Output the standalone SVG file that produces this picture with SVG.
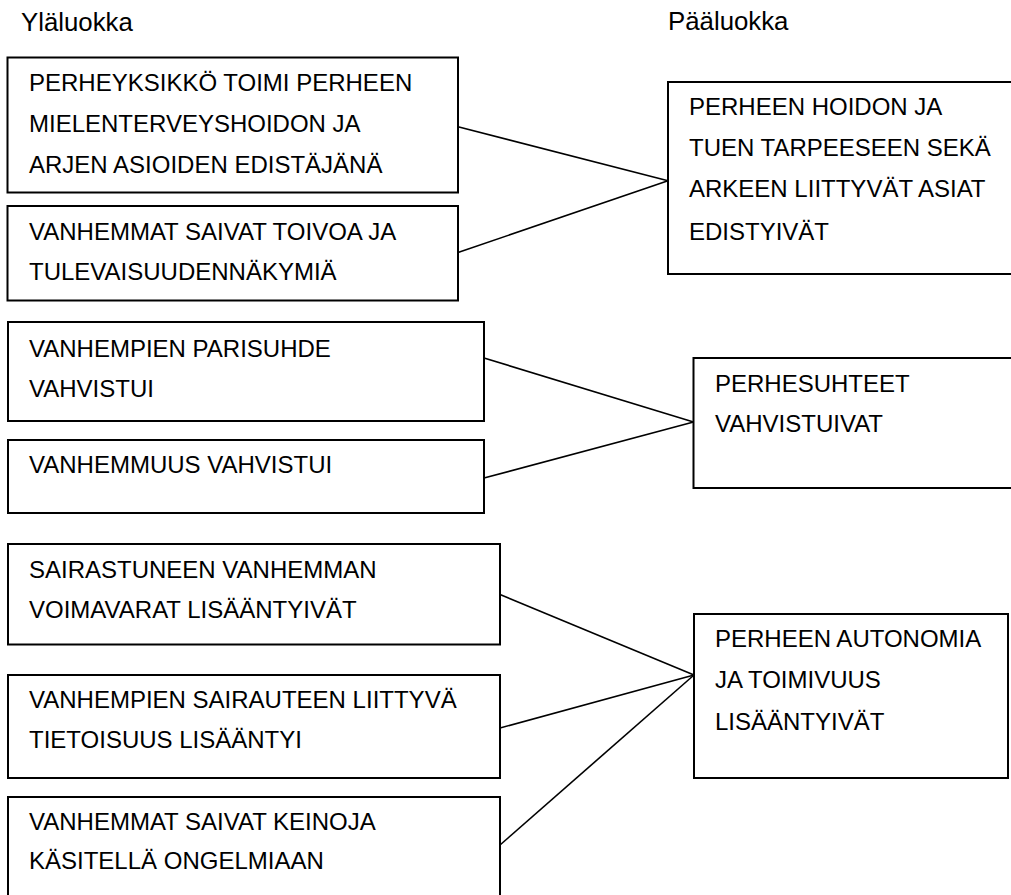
<svg xmlns="http://www.w3.org/2000/svg" width="1011" height="895" viewBox="0 0 1011 895">
  <style>
    .box { fill: #fff; stroke: #000; stroke-width: 2; }
    .lbl { font-family: "Liberation Sans", Arial, sans-serif; font-size: 24px; fill: #000; }
    .head { font-family: "Liberation Sans", Arial, sans-serif; font-size: 25.8px; fill: #000; }
    .conn line { stroke: #000; stroke-width: 1.6; }
  </style>
  <rect width="1011" height="895" fill="#fff"/>

  <!-- column headings -->
  <text class="head" x="21" y="31">Yläluokka</text>
  <text class="head" x="668" y="30">Pääluokka</text>

  <!-- connectors -->
  <g id="connectors" class="conn">
    <line x1="458" y1="126.7" x2="668" y2="180.7"/>
    <line x1="458" y1="252.5" x2="668" y2="180.7"/>
    <line x1="484" y1="358" x2="693.5" y2="422"/>
    <line x1="484" y1="478" x2="693.5" y2="422"/>
    <line x1="500" y1="594.5" x2="694" y2="675"/>
    <line x1="500" y1="728" x2="694" y2="675"/>
    <line x1="500" y1="845" x2="694" y2="675"/>
  </g>

  <!-- upper-level categories -->
  <g id="perheyksikko">
    <rect class="box" x="7.5" y="57.5" width="450.5" height="135"/>
    <text class="lbl" x="29" y="90.7">PERHEYKSIKKÖ TOIMI PERHEEN</text>
    <text class="lbl" x="29" y="131.7">MIELENTERVEYSHOIDON JA</text>
    <text class="lbl" x="29" y="173">ARJEN ASIOIDEN EDISTÄJÄNÄ</text>
  </g>
  <g id="toivoa">
    <rect class="box" x="7.5" y="206" width="450.5" height="94.5"/>
    <text class="lbl" x="29" y="240">VANHEMMAT SAIVAT TOIVOA JA</text>
    <text class="lbl" x="29" y="280">TULEVAISUUDENNÄKYMIÄ</text>
  </g>
  <g id="parisuhde">
    <rect class="box" x="8" y="322" width="476" height="99"/>
    <text class="lbl" x="29" y="356.7">VANHEMPIEN PARISUHDE</text>
    <text class="lbl" x="29" y="397">VAHVISTUI</text>
  </g>
  <g id="vanhemmuus">
    <rect class="box" x="8" y="440" width="476" height="73"/>
    <text class="lbl" x="29" y="473">VANHEMMUUS VAHVISTUI</text>
  </g>
  <g id="voimavarat">
    <rect class="box" x="8" y="544" width="492" height="100.5"/>
    <text class="lbl" x="29" y="578">SAIRASTUNEEN VANHEMMAN</text>
    <text class="lbl" x="29" y="618">VOIMAVARAT LISÄÄNTYIVÄT</text>
  </g>
  <g id="tietoisuus">
    <rect class="box" x="8" y="675" width="492" height="103"/>
    <text class="lbl" x="29" y="708">VANHEMPIEN SAIRAUTEEN LIITTYVÄ</text>
    <text class="lbl" x="29" y="748">TIETOISUUS LISÄÄNTYI</text>
  </g>
  <g id="keinoja">
    <rect class="box" x="8" y="797" width="492" height="120"/>
    <text class="lbl" x="29" y="830">VANHEMMAT SAIVAT KEINOJA</text>
    <text class="lbl" x="29" y="869">KÄSITELLÄ ONGELMIAAN</text>
  </g>

  <!-- main categories -->
  <g id="hoito-ja-tuki">
    <rect class="box" x="668" y="82" width="360" height="192"/>
    <text class="lbl" x="689" y="115">PERHEEN HOIDON JA</text>
    <text class="lbl" x="689" y="156">TUEN TARPEESEEN SEKÄ</text>
    <text class="lbl" x="689" y="197">ARKEEN LIITTYVÄT ASIAT</text>
    <text class="lbl" x="689" y="240">EDISTYIVÄT</text>
  </g>
  <g id="perhesuhteet">
    <rect class="box" x="693.5" y="358" width="340" height="130"/>
    <text class="lbl" x="715" y="392">PERHESUHTEET</text>
    <text class="lbl" x="715" y="432">VAHVISTUIVAT</text>
  </g>
  <g id="autonomia">
    <rect class="box" x="694" y="614" width="314" height="164"/>
    <text class="lbl" x="715" y="647">PERHEEN AUTONOMIA</text>
    <text class="lbl" x="715" y="688">JA TOIMIVUUS</text>
    <text class="lbl" x="715" y="730">LISÄÄNTYIVÄT</text>
  </g>
</svg>
